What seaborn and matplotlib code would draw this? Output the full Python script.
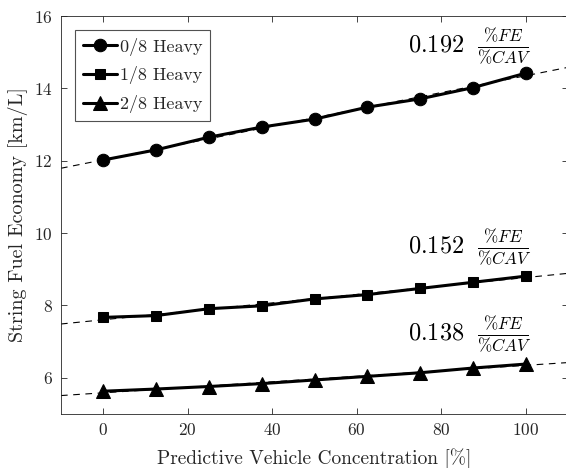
import numpy as np
import pandas as pd
import seaborn as sns
import matplotlib.pyplot as plt

# Data
concentration = [0, 12.5, 25, 37.5, 50, 62.5, 75, 87.5, 100]
heavy_0 = [12.02, 12.30, 12.65, 12.93, 13.15, 13.48, 13.71, 14.02, 14.42]
heavy_1 = [7.67, 7.72, 7.91, 7.99, 8.18, 8.30, 8.47, 8.64, 8.81]
heavy_2 = [5.63, 5.69, 5.76, 5.84, 5.94, 6.04, 6.14, 6.27, 6.38]
labels = ["0/8 Heavy", "1/8 Heavy", "2/8 Heavy"]
markers = ["o", "s", "^"]
slopes_txt = ["0.192", "0.152", "0.138"]
text_y = [15.15, 9.6, 7.2]

sns.set_style("ticks")
plt.rcParams["font.family"] = "cmr10"
plt.rcParams["mathtext.fontset"] = "cm"
plt.rcParams["axes.formatter.use_mathtext"] = True
plt.rcParams["axes.unicode_minus"] = False

grey = "#262626"
fig = plt.figure(figsize=(5.66, 4.68), dpi=100)
ax = fig.add_axes([61 / 566, 1 - 414 / 468, 507 / 566, 398 / 468])

xfit = np.array([-10, 110])
for ys, lab, mk, ms, stxt, ty in zip([heavy_0, heavy_1, heavy_2], labels, markers,
                                     [9, 7.2, 9.5], slopes_txt, text_y):
    df = pd.DataFrame({"x": concentration, "y": ys})
    sns.lineplot(data=df, x="x", y="y", ax=ax, color="black", marker=mk,
                 markersize=ms, linewidth=2.2, label=lab, markeredgecolor="black")
    p = np.polyfit(concentration, ys, 1)
    ax.plot(xfit, np.polyval(p, xfit), color="black", lw=0.8, ls=(0, (6, 5)), zorder=1)
    ax.text(101.5, ty, stxt + r"$\ \ \frac{\%FE}{\%CAV}$", ha="right", va="center",
            fontsize=17.5, color="black")

ax.set_xlim(-10, 110)
ax.set_ylim(5, 16)
ax.set_xticks([0, 20, 40, 60, 80, 100])
ax.set_yticks([6, 8, 10, 12, 14, 16])
ax.set_xlabel("Predictive Vehicle Concentration [%]", fontsize=14, color=grey, labelpad=7)
ax.set_ylabel("String Fuel Economy [km/L]", fontsize=14.5, color=grey, labelpad=4)
ax.tick_params(direction="in", top=True, right=True, labelsize=12.5, colors=grey,
               length=4, width=0.6, pad=6)
for s in ax.spines.values():
    s.set_color(grey)
    s.set_linewidth(0.6)

leg = ax.legend(loc="upper left", fontsize=13, frameon=True, fancybox=False,
                edgecolor=grey, handlelength=1.9, borderpad=0.45, labelspacing=0.6,
                handletextpad=0.15, borderaxespad=0.75)
leg.get_frame().set_linewidth(0.8)

fig.savefig("out.png", dpi=100)
